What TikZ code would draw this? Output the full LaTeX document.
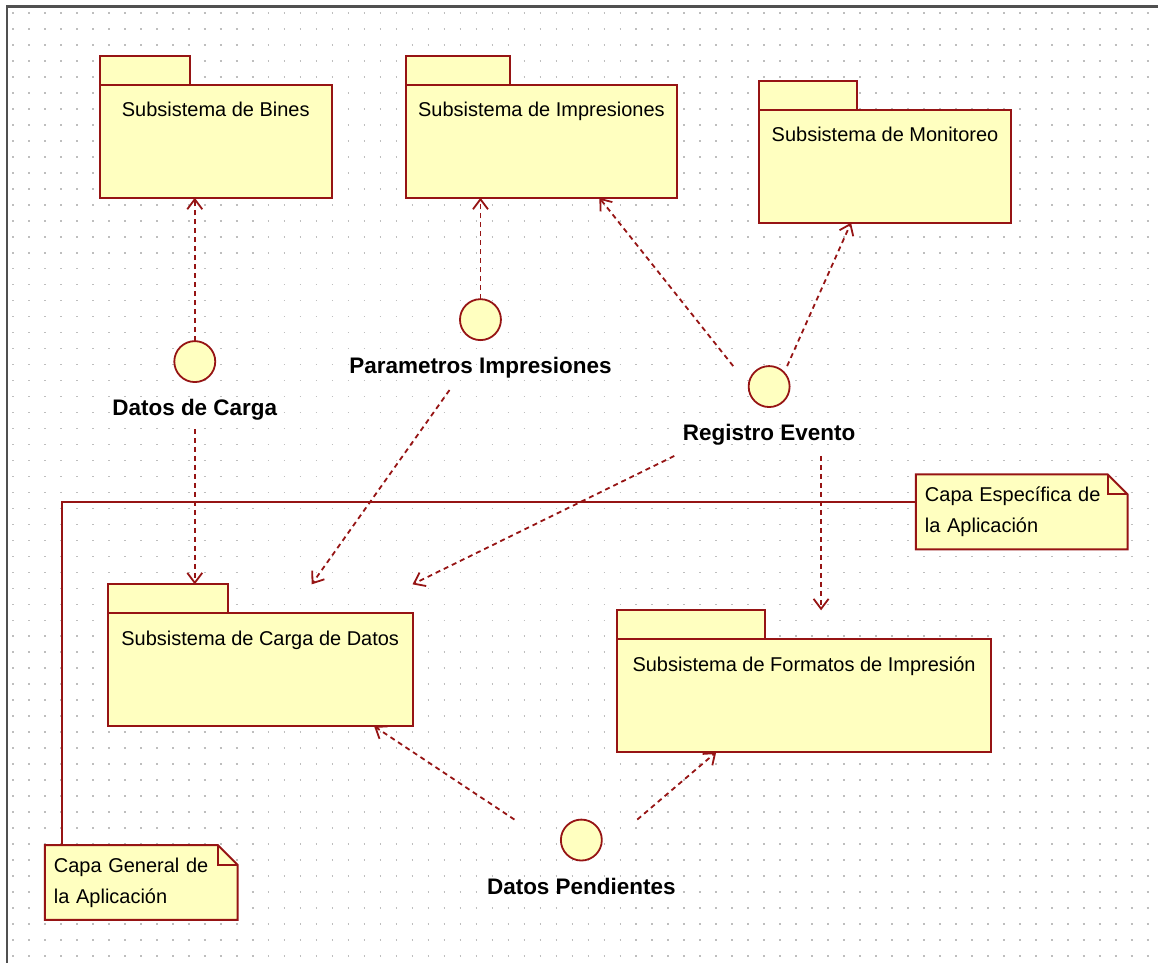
\documentclass[tikz,border=0pt]{standalone}
\usepackage{fontspec}
\setmainfont{Liberation Sans}
\usetikzlibrary{positioning,arrows.meta}

\definecolor{pkgfill}{RGB}{255,255,192}
\definecolor{pkgline}{RGB}{150,20,20}
\definecolor{framegray}{RGB}{80,80,80}
\definecolor{dotgray}{RGB}{190,190,190}

\pgfdeclarelayer{grid}
\pgfdeclarelayer{back}
\pgfsetlayers{grid,back,main}

% note outline with the folded corner, drawn under the note text
\newcommand{\dogear}[1]{%
  \begin{pgfonlayer}{back}
    \filldraw[draw=pkgline, fill=pkgfill, line width=2pt, line join=miter]
      (#1.south west) -- (#1.north west) -- ([xshift=-20pt]#1.north east)
      -- ([yshift=-20pt]#1.north east) -- (#1.south east) -- cycle;
    \draw[pkgline, line width=2pt] ([xshift=-20pt]#1.north east) |- ([yshift=-20pt]#1.north east);
  \end{pgfonlayer}}

\begin{document}
\begin{tikzpicture}[x=1pt, y=-1pt,
  pkg/.style={draw=pkgline, fill=pkgfill, line width=2pt, anchor=north west, outer sep=0pt,
    minimum height=113pt, inner sep=0pt, text height=32pt, text depth=81pt,
    font=\fontsize{20}{24}\selectfont},
  pkgtab/.style={draw=pkgline, fill=pkgfill, line width=2pt, anchor=south west, outer sep=0pt,
    minimum height=29pt, inner sep=0pt},
  iface/.style={circle, draw=pkgline, fill=pkgfill, line width=1.8pt, outer sep=0pt,
    minimum size=41pt, inner sep=0pt},
  ifacelbl/.style={inner sep=0pt, outer sep=0pt, text height=16.5pt, text depth=4.5pt,
    font=\fontsize{22.5}{26}\selectfont\bfseries},
  note/.style={anchor=north west, align=left, inner xsep=9pt, outer sep=0pt,
    minimum height=75pt, font=\fontsize{20}{31}\selectfont},
  dep/.style={pkgline, line width=1.8pt, dash pattern=on 5pt off 4pt,
    -{Straight Barb[length=10pt, width=15pt, line width=1.8pt]}},
  layerline/.style={pkgline, line width=2pt}]

  % dotted drawing canvas
  \begin{pgfonlayer}{grid}
    \fill[white] (0,0) rectangle (1159,964);
    \foreach \y in {13,29,...,957}
      \draw[dotgray, line width=1.6pt, dash pattern=on 1.6pt off 14.4pt] (12.2,\y) -- (1159,\y);
  \end{pgfonlayer}
  \draw[framegray, line width=2.6pt] (7,964) -- (7,6.3) -- (1159,6.3);

  % packages
  \node[pkg, minimum width=232pt] (bines) at (100,85) {Subsistema de Bines};
  \node[pkgtab, minimum width=90pt] (bines-tab) at (bines.north west) {};
  \node[pkg, minimum width=272pt] (impr) at (406,85) {Subsistema de Impresiones};
  \node[pkgtab, minimum width=105pt] (impr-tab) at (impr.north west) {};
  \node[pkg, minimum width=252pt] (mon) at (760,110) {Subsistema de Monitoreo};
  \node[pkgtab, minimum width=98pt] (mon-tab) at (mon.north west) {};
  \node[pkg, minimum width=305pt] (carga) at (108,614) {Subsistema de Carga de Datos};
  \node[pkgtab, minimum width=120pt] (carga-tab) at (carga.north west) {};
  \node[pkg, minimum width=374pt] (fmt) at (618,640) {Subsistema de Formatos de Impresión};
  \node[pkgtab, minimum width=148pt] (fmt-tab) at (fmt.north west) {};

  % interfaces
  \node[iface] (dcarga) at (195,362) {};
  \node[ifacelbl, below=17pt of dcarga] (dcarga-lbl) {Datos de Carga};
  \node[iface] (pimpr) at (481,320) {};
  \node[ifacelbl, below=17pt of pimpr] (pimpr-lbl) {Parametros Impresiones};
  \node[iface] (regevt) at (770,387) {};
  \node[ifacelbl, below=17pt of regevt] (regevt-lbl) {Registro Evento};
  \node[iface] (dpend) at (582,841) {};
  \node[ifacelbl, below=17pt of dpend] (dpend-lbl) {Datos Pendientes};

  % layer notes
  \node[note, text width=194pt] (capaesp) at (917,475) {Capa Específica de\\la Aplicación};
  \dogear{capaesp}
  \node[note, text width=175pt] (capagen) at (45,846) {Capa General de\\la Aplicación};
  \dogear{capagen}
  \draw[layerline] ([yshift=10pt]capaesp.west) -| ([xshift=17pt]capagen.north west);

  % dependencies
  \draw[dep] (dcarga.north) -- (dcarga.north |- bines.south);
  \draw[dep] ([yshift=-9pt]dcarga-lbl.south) -- (dcarga-lbl.south |- carga-tab.north);
  \draw[dep] (pimpr.north) -- (pimpr.north |- impr.south);
  \draw[dep] ([xshift=-31pt,yshift=-12pt]pimpr-lbl.south) -- ([xshift=204pt]carga-tab.north west);
  \draw[dep] ([xshift=-36pt]regevt.north) -- ([xshift=58pt]impr.south);
  \draw[dep] ([xshift=18pt]regevt.north) -- ([xshift=-34pt]mon.south);
  \draw[dep] ([xshift=-95pt,yshift=-11pt]regevt-lbl.south) -- (carga.north east |- carga-tab.north);
  \draw[dep] ([xshift=52pt,yshift=-11pt]regevt-lbl.south) -- ([xshift=52pt]regevt-lbl.south |- fmt-tab.north);
  \draw[dep] ([xshift=-67pt]dpend.north) -- ([xshift=114pt]carga.south);
  \draw[dep] ([xshift=56pt]dpend.north) -- ([xshift=-88pt]fmt.south);
\end{tikzpicture}
\end{document}
